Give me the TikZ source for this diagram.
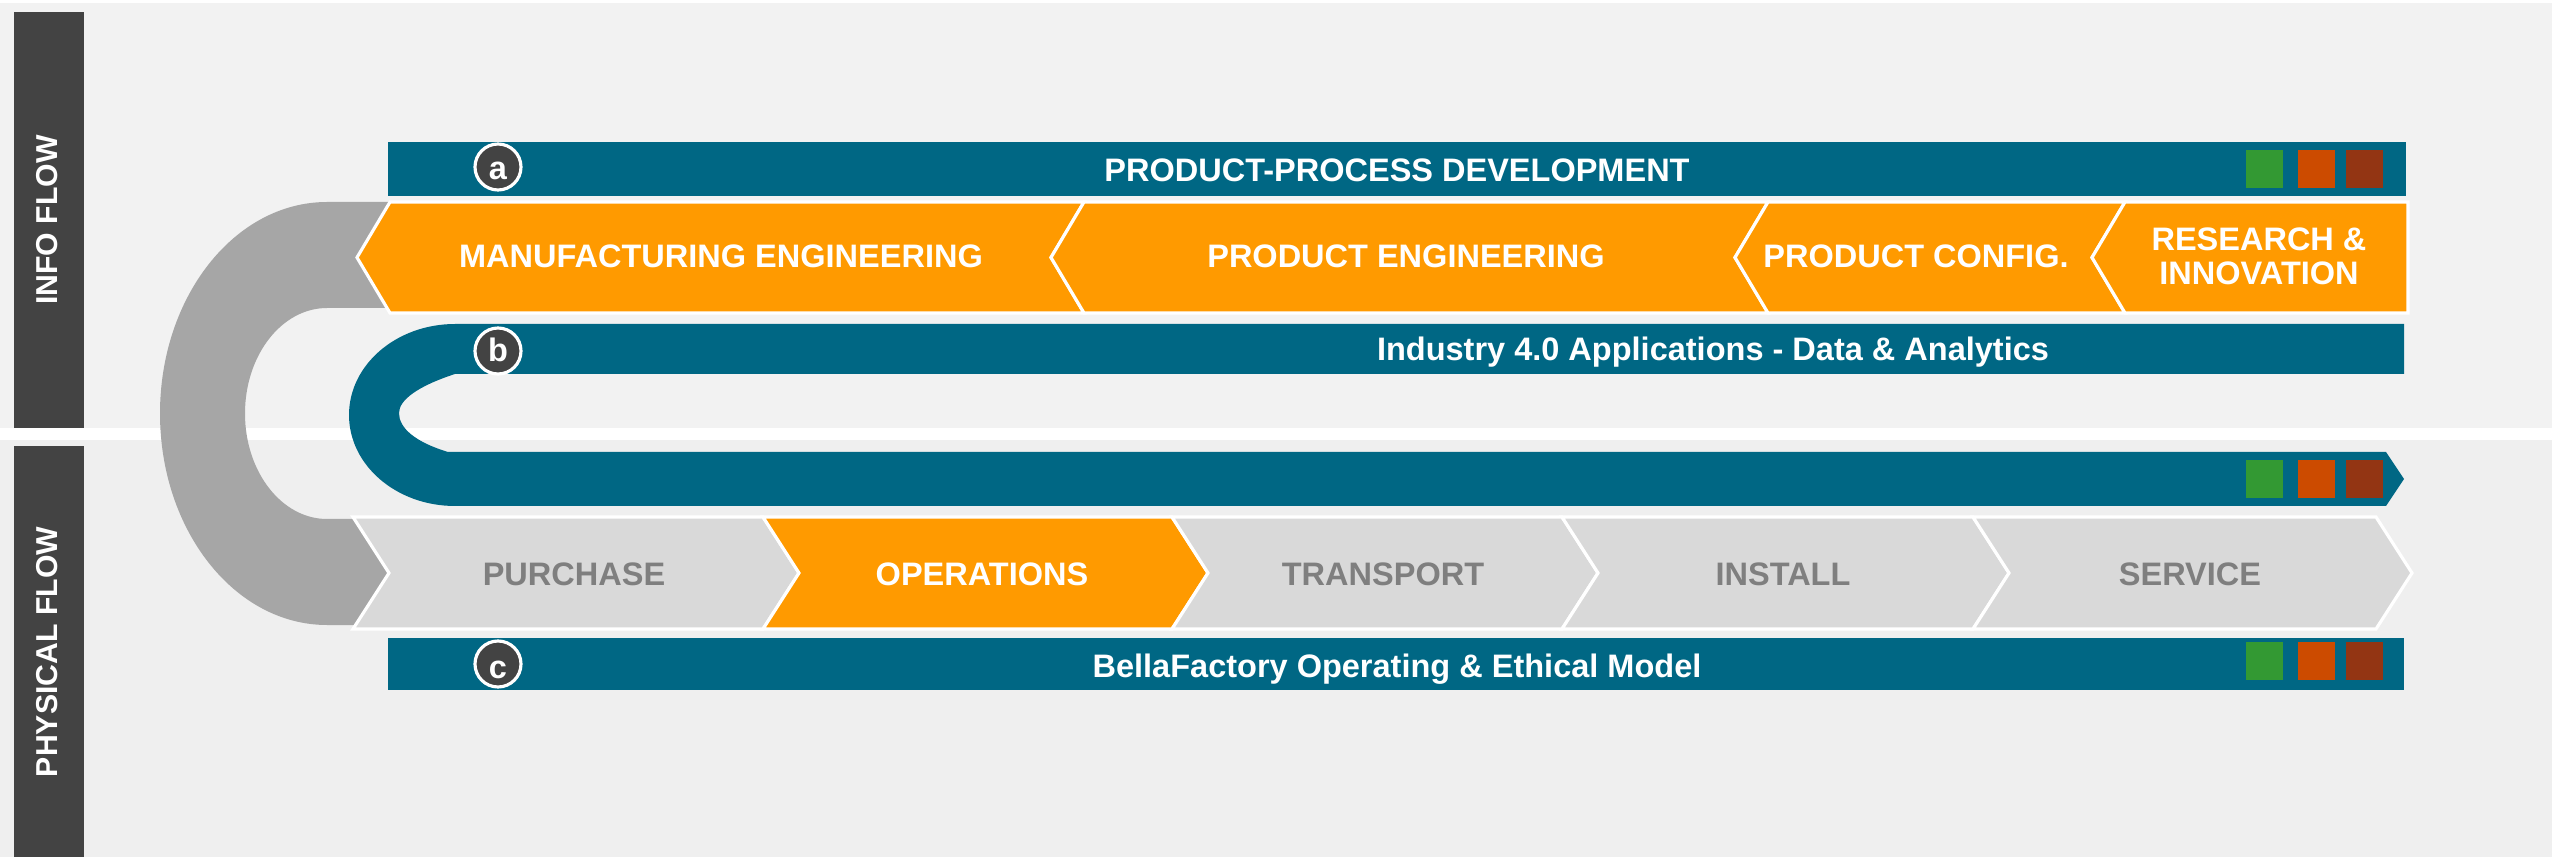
\documentclass[tikz,border=0pt]{standalone}
\usepackage{fontspec}
\setmainfont{Liberation Sans}

\definecolor{flowteal}{HTML}{006784}
\definecolor{floworange}{HTML}{FF9A00}
\definecolor{chipgrey}{HTML}{D9D9D9}
\definecolor{labelgrey}{HTML}{7F7F7F}
\definecolor{loopgrey}{HTML}{A6A6A6}
\definecolor{sidegrey}{HTML}{434343}
\definecolor{bgtop}{HTML}{F2F2F2}
\definecolor{bgbottom}{HTML}{EFEFEF}
\definecolor{kpigreen}{HTML}{339933}
\definecolor{kpired}{HTML}{CC4B00}
\definecolor{kpibrown}{HTML}{933513}

\newcommand{\flowsize}{\fontsize{9.25pt}{9.8pt}\selectfont}
\newcommand{\sidesize}{\fontsize{8.6pt}{9pt}\selectfont}

\begin{document}
\begin{tikzpicture}[x=0.1mm, y=-0.1mm,
  orangechev/.style={fill=floworange, draw=white, line width=0.9pt},
  greychev/.style={fill=chipgrey, draw=white, line width=0.9pt},
  flowbar/.style={fill=flowteal},
  badge/.style={circle, fill=sidegrey, draw=white, line width=0.9pt,
    minimum size=4.6mm, inner sep=0pt},
  whitetxt/.style={text=white, font=\bfseries\flowsize, inner sep=0pt},
  greytxt/.style={text=labelgrey, font=\bfseries\flowsize, inner sep=0pt},
  sidetxt/.style={text=white, font=\bfseries\sidesize, rotate=90, inner sep=0pt}]
  \useasboundingbox (0,0) rectangle (2552,857);

  % background
  \fill[white] (0,0) rectangle (2552,857);
  \fill[bgtop] (0,3) rectangle (2552,428);
  \fill[bgbottom] (0,440) rectangle (2552,857);
  \fill[sidegrey] (14,12) rectangle (84,428);
  \fill[sidegrey] (14,446) rectangle (84,857);

  % loops
  \fill[loopgrey] (395,202) -- (327,202)
    arc[start angle=270, end angle=90, x radius=167, y radius=211.5]
    -- (395,625) -- (395,519) -- (327,519)
    arc[start angle=90, end angle=270, x radius=82, y radius=105.5]
    -- (395,308) -- cycle;
  \fill[flowteal] (2404,324) -- (455,324)
    arc[start angle=270, end angle=90, x radius=106, y radius=91]
    -- (2386,506) -- (2404,479) -- (2386,452) -- (448,452)
    .. controls (415,442) and (399,428) .. (399,413)
    .. controls (399,400) and (418,386) .. (455,374)
    -- (2404,374) -- cycle;

  % bars
  \fill[flowbar] (388,142) rectangle (2406,196);
  \fill[flowbar] (388,638) rectangle (2404,690);

  % info flow chevrons
  \foreach \l/\r in {390/1084, 1084/1768, 1768/2125}
    \draw[orangechev] (\l,202) -- (\l-33,257.5) -- (\l,313) -- (\r,313)
      -- (\r-33,257.5) -- (\r,202) -- cycle;
  \draw[orangechev] (2125,202) -- (2092,257.5) -- (2125,313) -- (2408,313)
    -- (2408,202) -- cycle;

  % physical flow chevrons
  \foreach \l/\r/\c in {353/763/chipgrey, 763/1172/floworange,
      1172/1562/chipgrey, 1562/1973/chipgrey, 1973/2376/chipgrey}
    \draw[greychev, fill=\c] (\l,517) -- (\l+36,573) -- (\l,629) -- (\r,629)
      -- (\r+36,573) -- (\r,517) -- cycle;

  % kpi squares
  \foreach \y in {150, 460, 642} {
    \fill[kpigreen] (2246,\y) rectangle ++(37,38);
    \fill[kpired] (2298,\y) rectangle ++(37,38);
    \fill[kpibrown] (2346,\y) rectangle ++(37,38);
  }

  % badges
  \node[badge] (bdga) at (498,167) {};
  \node[badge] (bdgb) at (498,351) {};
  \node[badge] (bdgc) at (498,664) {};
  \node[whitetxt, anchor=base] (ltra) at (498,180) {a};
  \node[whitetxt, anchor=base] (ltrb) at (498,362) {b};
  \node[whitetxt, anchor=base] (ltrc) at (498,678) {c};

  % labels
  \node[sidetxt] (info) at (47,220) {INFO FLOW};
  \node[sidetxt] (phys) at (47,652) {PHYSICAL FLOW};

  \node[whitetxt, anchor=base] (ppd) at (1397,182) {PRODUCT-PROCESS DEVELOPMENT};
  \node[whitetxt, anchor=base] (ind) at (1713,361) {Industry 4.0 Applications - Data \& Analytics};
  \node[whitetxt, anchor=base] (bfm) at (1397,677) {BellaFactory Operating \& Ethical Model};

  \node[whitetxt, anchor=base] (mfg) at (721,268) {MANUFACTURING ENGINEERING};
  \node[whitetxt, anchor=base] (peng) at (1406,268) {PRODUCT ENGINEERING};
  \node[whitetxt, anchor=base] (pcfg) at (1916,268) {PRODUCT CONFIG.};
  \node[whitetxt, align=center] (rni) at (2259,256.5) {RESEARCH \&\\INNOVATION};

  \node[greytxt, anchor=base] (pur) at (574,585) {PURCHASE};
  \node[whitetxt, anchor=base] (ops) at (982,585) {OPERATIONS};
  \node[greytxt, anchor=base] (trn) at (1383,585) {TRANSPORT};
  \node[greytxt, anchor=base] (ins) at (1783,585) {INSTALL};
  \node[greytxt, anchor=base] (srv) at (2190,585) {SERVICE};
\end{tikzpicture}
\end{document}
